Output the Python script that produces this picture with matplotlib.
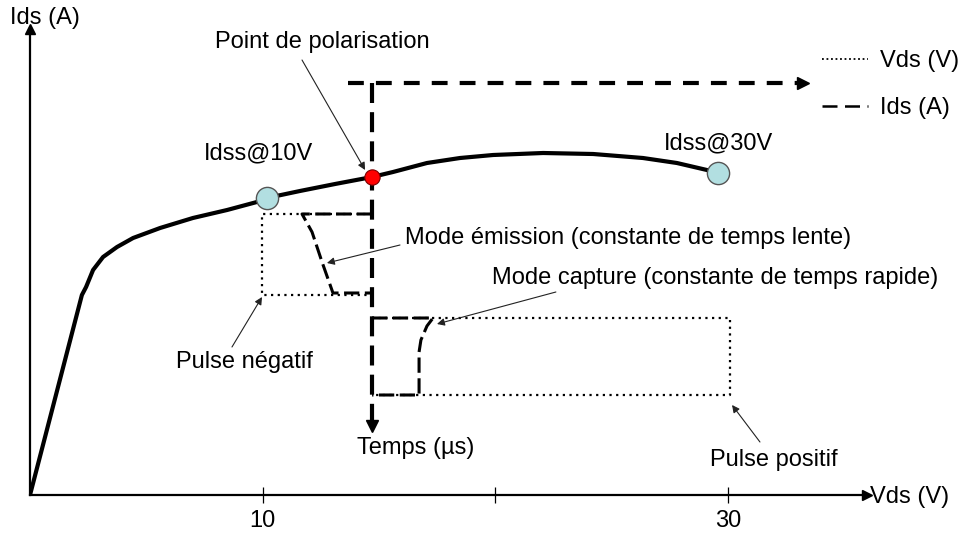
import matplotlib
matplotlib.use("Agg")
import matplotlib.pyplot as plt
from matplotlib.lines import Line2D

plt.rcParams['font.family'] = ['Liberation Sans', 'DejaVu Sans']

# output characteristic Ids(Vds), arbitrary units for Ids
vds_curve = [0.0, 2.23, 2.41, 2.71, 3.14, 3.74, 4.43, 5.59, 7.00, 8.47, 9.75, 10.18,
             11.60, 13.11, 14.70, 15.60, 17.06, 18.48, 19.90, 22.05, 24.20, 26.34,
             27.80, 29.09, 29.56]
ids_curve = [0.0, 5.0, 5.2, 5.625, 5.95, 6.2, 6.425, 6.675, 6.925, 7.125, 7.325, 7.425,
             7.6, 7.775, 7.95, 8.075, 8.3, 8.425, 8.5, 8.55, 8.525, 8.425,
             8.3, 8.125, 8.05]

idss_vds = [10.18, 29.56]
idss_ids = [7.425, 8.05]
idss_labels = ['Idss@10V', 'Idss@30V']
bias_vds, bias_ids = 14.70, 7.95

# pulses (x in Vds, y along the time axis)
vds_neg_x = [14.70, 9.97, 9.97, 14.70]
vds_neg_y = [7.025, 7.025, 5.0, 5.0]
ids_neg_x = [14.70, 11.69, 12.12, 12.55, 13.02, 14.70]
ids_neg_y = [7.025, 7.025, 6.575, 5.825, 5.05, 5.05]

vds_pos_x = [14.70, 30.08, 30.08, 14.70]
vds_pos_y = [4.425, 4.425, 2.5, 2.5]
ids_pos_x = [14.70, 17.32, 17.06, 16.80, 16.72, 16.72, 14.70]
ids_pos_y = [4.425, 4.425, 4.225, 3.875, 3.575, 2.5, 2.5]

xticks = [10, 20, 30]
xtick_labels = ['10', '', '30']

fig = plt.figure(figsize=(9.62, 5.35), dpi=100)
ax = fig.add_axes([30 / 962, 40 / 535, 837 / 962, 466 / 535])
ax.set_xlim(0, 35.97)
ax.set_ylim(0, 11.65)
for s in ['top', 'right']:
    ax.spines[s].set_visible(False)
for s in ['left', 'bottom']:
    ax.spines[s].set_linewidth(1.6)
ax.set_yticks([])
ax.set_xticks(xticks)
ax.set_xticklabels(xtick_labels, fontsize=17)
ax.tick_params(axis='x', direction='inout', length=12, width=0.9, pad=5)
ax.plot(1, 0, '>k', ms=7, transform=ax.get_yaxis_transform(), clip_on=False)
ax.plot(0, 1, '^k', ms=7, transform=ax.get_xaxis_transform(), clip_on=False)

# characteristic
ax.plot(vds_curve, ids_curve, color='black', lw=3, solid_capstyle='round', zorder=3)

# time axis
ax.plot([bias_vds, bias_vds], [10.3, 1.75], color='black', lw=3,
        dashes=(4.8, 2.2), zorder=2)
ax.plot(bias_vds, 1.72, 'vk', ms=8, clip_on=False)
ax.plot([13.67, 33.0], [10.3, 10.3], color='black', lw=3, dashes=(3.8, 2.9))
ax.plot(33.2, 10.3, '>k', ms=8, clip_on=False)

# pulses
dot = dict(color='black', lw=1.6, linestyle=(0, (1, 2)))
ax.plot(vds_neg_x, vds_neg_y, **dot)
ax.plot(vds_pos_x, vds_pos_y, **dot)
dash = dict(color='black', lw=2.2, dashes=(5, 1.8))
ax.plot(ids_neg_x, ids_neg_y, **dash)
ax.plot(ids_pos_x, ids_pos_y, **dash)

# points
ax.plot(idss_vds, idss_ids, 'o', ms=16, mfc='#b2dfe1', mec='#555555', mew=1, zorder=5)
ax.plot(bias_vds, bias_ids, 'o', ms=11, mfc='#ff0000', mec='#7a0000', mew=0.8, zorder=6)

fs = 17
ax.text(0.645, 11.93, 'Ids (A)', fontsize=fs, ha='center', va='center')
ax.text(36.10, -0.05, 'Vds (V)', fontsize=fs, ha='left', va='center')
ax.text(9.84, 8.55, idss_labels[0], fontsize=fs, ha='center', va='center')
ax.text(29.57, 8.8, idss_labels[1], fontsize=fs, ha='center', va='center')
ax.text(16.59, 1.175, 'Temps (µs)', fontsize=fs, ha='center', va='center')

notes = [
    ('Point de polarisation', (12.55, 11.33), 'center', (11.69, 10.875), (14.40, 8.125)),
    ('Mode émission (constante de temps lente)', (16.11, 6.425), 'left', (15.90, 6.25), (12.76, 5.8)),
    ('Mode capture (constante de temps rapide)', (19.85, 5.425), 'left', (22.60, 5.075), (17.49, 4.275)),
    ('Pulse négatif', (9.20, 3.325), 'center', (8.68, 3.7), (9.97, 4.95)),
    ('Pulse positif', (31.97, 0.875), 'center', (31.37, 1.325), (30.17, 2.25)),
]
for txt, pos, ha, start, end in notes:
    ax.text(pos[0], pos[1], txt, fontsize=fs, ha=ha, va='center')
    ax.annotate('', xy=end, xytext=start,
                arrowprops=dict(arrowstyle='-|>', lw=0.8, color='#222222',
                                mutation_scale=11, shrinkA=0, shrinkB=0))

handles = [Line2D([], [], color='black', lw=1.3, linestyle=(0, (1, 1.5))),
           Line2D([], [], color='black', lw=1.8, dashes=(6, 3))]
ax.legend(handles, ['Vds (V)', 'Ids (A)'], loc='upper left', frameon=False,
          fontsize=fs, handlelength=1.95, handletextpad=0.5, labelspacing=1.05,
          borderpad=0, borderaxespad=0,
          bbox_to_anchor=(822 / 962, 1 - 50 / 535), bbox_transform=fig.transFigure)

plt.savefig('out.png', dpi=100)
